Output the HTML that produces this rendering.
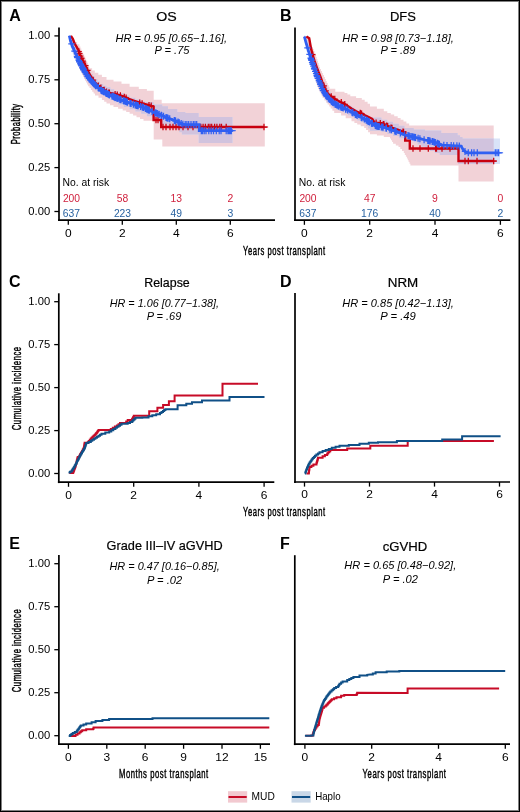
<!DOCTYPE html>
<html><head><meta charset="utf-8"><style>
html,body{margin:0;padding:0;background:#fff;}
body{width:520px;height:812px;position:relative;overflow:hidden;font-family:"Liberation Sans",sans-serif;}
.frame{position:absolute;left:0;top:0;width:520px;height:812px;box-sizing:border-box;border:1px solid #000;pointer-events:none;}
.frame2{position:absolute;left:1px;top:1px;width:518px;height:810px;box-sizing:border-box;border:1px solid #808080;pointer-events:none;}
</style></head><body>
<svg width="520" height="812" viewBox="0 0 520 812" style="position:absolute;left:0;top:0;will-change:transform" font-family='"Liberation Sans", sans-serif'>
<rect x="0" y="0" width="520" height="812" fill="#fff"/>
<line x1="59.0" y1="27.5" x2="59.0" y2="221.0" stroke="#000" stroke-width="1.7"/>
<line x1="58.1" y1="220.2" x2="275.0" y2="220.2" stroke="#000" stroke-width="1.7"/>
<line x1="54.4" y1="35.9" x2="59.0" y2="35.9" stroke="#000" stroke-width="1.3"/>
<text transform="translate(50.20,39.30) scale(1.100,1)" font-size="10.20" text-anchor="end" fill="#000">1.00</text>
<line x1="54.4" y1="79.8" x2="59.0" y2="79.8" stroke="#000" stroke-width="1.3"/>
<text transform="translate(50.20,83.20) scale(1.100,1)" font-size="10.20" text-anchor="end" fill="#000">0.75</text>
<line x1="54.4" y1="123.7" x2="59.0" y2="123.7" stroke="#000" stroke-width="1.3"/>
<text transform="translate(50.20,127.10) scale(1.100,1)" font-size="10.20" text-anchor="end" fill="#000">0.50</text>
<line x1="54.4" y1="167.6" x2="59.0" y2="167.6" stroke="#000" stroke-width="1.3"/>
<text transform="translate(50.20,171.00) scale(1.100,1)" font-size="10.20" text-anchor="end" fill="#000">0.25</text>
<line x1="54.4" y1="211.5" x2="59.0" y2="211.5" stroke="#000" stroke-width="1.3"/>
<text transform="translate(50.20,214.90) scale(1.100,1)" font-size="10.20" text-anchor="end" fill="#000">0.00</text>
<line x1="68.3" y1="220.2" x2="68.3" y2="224.8" stroke="#000" stroke-width="1.3"/>
<text transform="translate(68.30,236.60) scale(1.130,1)" font-size="10.60" text-anchor="middle" fill="#000">0</text>
<line x1="122.3" y1="220.2" x2="122.3" y2="224.8" stroke="#000" stroke-width="1.3"/>
<text transform="translate(122.30,236.60) scale(1.130,1)" font-size="10.60" text-anchor="middle" fill="#000">2</text>
<line x1="176.3" y1="220.2" x2="176.3" y2="224.8" stroke="#000" stroke-width="1.3"/>
<text transform="translate(176.30,236.60) scale(1.130,1)" font-size="10.60" text-anchor="middle" fill="#000">4</text>
<line x1="230.3" y1="220.2" x2="230.3" y2="224.8" stroke="#000" stroke-width="1.3"/>
<text transform="translate(230.30,236.60) scale(1.130,1)" font-size="10.60" text-anchor="middle" fill="#000">6</text>
<line x1="295.0" y1="27.5" x2="295.0" y2="221.0" stroke="#000" stroke-width="1.7"/>
<line x1="294.1" y1="220.2" x2="510.4" y2="220.2" stroke="#000" stroke-width="1.7"/>
<line x1="304.4" y1="220.2" x2="304.4" y2="224.8" stroke="#000" stroke-width="1.3"/>
<text transform="translate(304.40,236.60) scale(1.130,1)" font-size="10.60" text-anchor="middle" fill="#000">0</text>
<line x1="369.7" y1="220.2" x2="369.7" y2="224.8" stroke="#000" stroke-width="1.3"/>
<text transform="translate(369.70,236.60) scale(1.130,1)" font-size="10.60" text-anchor="middle" fill="#000">2</text>
<line x1="435.0" y1="220.2" x2="435.0" y2="224.8" stroke="#000" stroke-width="1.3"/>
<text transform="translate(435.00,236.60) scale(1.130,1)" font-size="10.60" text-anchor="middle" fill="#000">4</text>
<line x1="500.4" y1="220.2" x2="500.4" y2="224.8" stroke="#000" stroke-width="1.3"/>
<text transform="translate(500.40,236.60) scale(1.130,1)" font-size="10.60" text-anchor="middle" fill="#000">6</text>
<line x1="58.8" y1="293.3" x2="58.8" y2="483.1" stroke="#000" stroke-width="1.7"/>
<line x1="57.9" y1="482.2" x2="274.3" y2="482.2" stroke="#000" stroke-width="1.7"/>
<line x1="54.2" y1="301.7" x2="58.8" y2="301.7" stroke="#000" stroke-width="1.3"/>
<text transform="translate(50.20,305.10) scale(1.100,1)" font-size="10.20" text-anchor="end" fill="#000">1.00</text>
<line x1="54.2" y1="344.6" x2="58.8" y2="344.6" stroke="#000" stroke-width="1.3"/>
<text transform="translate(50.20,348.05) scale(1.100,1)" font-size="10.20" text-anchor="end" fill="#000">0.75</text>
<line x1="54.2" y1="387.6" x2="58.8" y2="387.6" stroke="#000" stroke-width="1.3"/>
<text transform="translate(50.20,391.00) scale(1.100,1)" font-size="10.20" text-anchor="end" fill="#000">0.50</text>
<line x1="54.2" y1="430.6" x2="58.8" y2="430.6" stroke="#000" stroke-width="1.3"/>
<text transform="translate(50.20,433.95) scale(1.100,1)" font-size="10.20" text-anchor="end" fill="#000">0.25</text>
<line x1="54.2" y1="473.5" x2="58.8" y2="473.5" stroke="#000" stroke-width="1.3"/>
<text transform="translate(50.20,476.90) scale(1.100,1)" font-size="10.20" text-anchor="end" fill="#000">0.00</text>
<line x1="68.5" y1="482.2" x2="68.5" y2="486.8" stroke="#000" stroke-width="1.3"/>
<text transform="translate(68.50,498.60) scale(1.130,1)" font-size="10.60" text-anchor="middle" fill="#000">0</text>
<line x1="133.7" y1="482.2" x2="133.7" y2="486.8" stroke="#000" stroke-width="1.3"/>
<text transform="translate(133.70,498.60) scale(1.130,1)" font-size="10.60" text-anchor="middle" fill="#000">2</text>
<line x1="198.9" y1="482.2" x2="198.9" y2="486.8" stroke="#000" stroke-width="1.3"/>
<text transform="translate(198.90,498.60) scale(1.130,1)" font-size="10.60" text-anchor="middle" fill="#000">4</text>
<line x1="264.1" y1="482.2" x2="264.1" y2="486.8" stroke="#000" stroke-width="1.3"/>
<text transform="translate(264.10,498.60) scale(1.130,1)" font-size="10.60" text-anchor="middle" fill="#000">6</text>
<line x1="295.0" y1="293.1" x2="295.0" y2="482.9" stroke="#000" stroke-width="1.7"/>
<line x1="294.1" y1="482.0" x2="510.0" y2="482.0" stroke="#000" stroke-width="1.7"/>
<line x1="304.5" y1="482.0" x2="304.5" y2="486.6" stroke="#000" stroke-width="1.3"/>
<text transform="translate(304.50,498.40) scale(1.130,1)" font-size="10.60" text-anchor="middle" fill="#000">0</text>
<line x1="369.5" y1="482.0" x2="369.5" y2="486.6" stroke="#000" stroke-width="1.3"/>
<text transform="translate(369.50,498.40) scale(1.130,1)" font-size="10.60" text-anchor="middle" fill="#000">2</text>
<line x1="434.5" y1="482.0" x2="434.5" y2="486.6" stroke="#000" stroke-width="1.3"/>
<text transform="translate(434.50,498.40) scale(1.130,1)" font-size="10.60" text-anchor="middle" fill="#000">4</text>
<line x1="499.5" y1="482.0" x2="499.5" y2="486.6" stroke="#000" stroke-width="1.3"/>
<text transform="translate(499.50,498.40) scale(1.130,1)" font-size="10.60" text-anchor="middle" fill="#000">6</text>
<line x1="58.9" y1="555.0" x2="58.9" y2="745.1" stroke="#000" stroke-width="1.7"/>
<line x1="58.0" y1="744.2" x2="270.0" y2="744.2" stroke="#000" stroke-width="1.7"/>
<line x1="54.3" y1="563.7" x2="58.9" y2="563.7" stroke="#000" stroke-width="1.3"/>
<text transform="translate(50.20,567.10) scale(1.100,1)" font-size="10.20" text-anchor="end" fill="#000">1.00</text>
<line x1="54.3" y1="606.7" x2="58.9" y2="606.7" stroke="#000" stroke-width="1.3"/>
<text transform="translate(50.20,610.10) scale(1.100,1)" font-size="10.20" text-anchor="end" fill="#000">0.75</text>
<line x1="54.3" y1="649.7" x2="58.9" y2="649.7" stroke="#000" stroke-width="1.3"/>
<text transform="translate(50.20,653.10) scale(1.100,1)" font-size="10.20" text-anchor="end" fill="#000">0.50</text>
<line x1="54.3" y1="692.7" x2="58.9" y2="692.7" stroke="#000" stroke-width="1.3"/>
<text transform="translate(50.20,696.10) scale(1.100,1)" font-size="10.20" text-anchor="end" fill="#000">0.25</text>
<line x1="54.3" y1="735.7" x2="58.9" y2="735.7" stroke="#000" stroke-width="1.3"/>
<text transform="translate(50.20,739.10) scale(1.100,1)" font-size="10.20" text-anchor="end" fill="#000">0.00</text>
<line x1="68.4" y1="744.2" x2="68.4" y2="748.8" stroke="#000" stroke-width="1.3"/>
<text transform="translate(68.40,760.60) scale(1.130,1)" font-size="10.60" text-anchor="middle" fill="#000">0</text>
<line x1="106.8" y1="744.2" x2="106.8" y2="748.8" stroke="#000" stroke-width="1.3"/>
<text transform="translate(106.80,760.60) scale(1.130,1)" font-size="10.60" text-anchor="middle" fill="#000">3</text>
<line x1="145.2" y1="744.2" x2="145.2" y2="748.8" stroke="#000" stroke-width="1.3"/>
<text transform="translate(145.20,760.60) scale(1.130,1)" font-size="10.60" text-anchor="middle" fill="#000">6</text>
<line x1="183.6" y1="744.2" x2="183.6" y2="748.8" stroke="#000" stroke-width="1.3"/>
<text transform="translate(183.60,760.60) scale(1.130,1)" font-size="10.60" text-anchor="middle" fill="#000">9</text>
<line x1="222.0" y1="744.2" x2="222.0" y2="748.8" stroke="#000" stroke-width="1.3"/>
<text transform="translate(222.00,760.60) scale(1.130,1)" font-size="10.60" text-anchor="middle" fill="#000">12</text>
<line x1="260.4" y1="744.2" x2="260.4" y2="748.8" stroke="#000" stroke-width="1.3"/>
<text transform="translate(260.40,760.60) scale(1.130,1)" font-size="10.60" text-anchor="middle" fill="#000">15</text>
<line x1="294.8" y1="555.2" x2="294.8" y2="745.1" stroke="#000" stroke-width="1.7"/>
<line x1="293.9" y1="744.2" x2="510.0" y2="744.2" stroke="#000" stroke-width="1.7"/>
<line x1="304.9" y1="744.2" x2="304.9" y2="748.8" stroke="#000" stroke-width="1.3"/>
<text transform="translate(304.90,760.60) scale(1.130,1)" font-size="10.60" text-anchor="middle" fill="#000">0</text>
<line x1="371.7" y1="744.2" x2="371.7" y2="748.8" stroke="#000" stroke-width="1.3"/>
<text transform="translate(371.70,760.60) scale(1.130,1)" font-size="10.60" text-anchor="middle" fill="#000">2</text>
<line x1="438.5" y1="744.2" x2="438.5" y2="748.8" stroke="#000" stroke-width="1.3"/>
<text transform="translate(438.50,760.60) scale(1.130,1)" font-size="10.60" text-anchor="middle" fill="#000">4</text>
<line x1="505.3" y1="744.2" x2="505.3" y2="748.8" stroke="#000" stroke-width="1.3"/>
<text transform="translate(505.30,760.60) scale(1.130,1)" font-size="10.60" text-anchor="middle" fill="#000">6</text>
<text x="9.2" y="20.9" font-size="16.0" text-anchor="start" font-weight="bold" font-style="normal" fill="#000">A</text>
<text x="280.0" y="20.8" font-size="16.0" text-anchor="start" font-weight="bold" font-style="normal" fill="#000">B</text>
<text x="9.0" y="286.6" font-size="16.0" text-anchor="start" font-weight="bold" font-style="normal" fill="#000">C</text>
<text x="280.0" y="286.8" font-size="16.0" text-anchor="start" font-weight="bold" font-style="normal" fill="#000">D</text>
<text x="9.2" y="548.7" font-size="16.0" text-anchor="start" font-weight="bold" font-style="normal" fill="#000">E</text>
<text x="280.0" y="548.7" font-size="16.0" text-anchor="start" font-weight="bold" font-style="normal" fill="#000">F</text>
<text x="166.6" y="20.8" font-size="13.0" text-anchor="middle" font-weight="normal" font-style="normal" fill="#000" textLength="20.5" lengthAdjust="spacingAndGlyphs" stroke="#000" stroke-width="0.2">OS</text>
<text x="402.9" y="20.8" font-size="13.0" text-anchor="middle" font-weight="normal" font-style="normal" fill="#000" textLength="26.0" lengthAdjust="spacingAndGlyphs" stroke="#000" stroke-width="0.2">DFS</text>
<text x="167.0" y="287.3" font-size="13.0" text-anchor="middle" font-weight="normal" font-style="normal" fill="#000" textLength="45.5" lengthAdjust="spacingAndGlyphs" stroke="#000" stroke-width="0.2">Relapse</text>
<text x="403.0" y="287.3" font-size="13.0" text-anchor="middle" font-weight="normal" font-style="normal" fill="#000" textLength="30.5" lengthAdjust="spacingAndGlyphs" stroke="#000" stroke-width="0.2">NRM</text>
<text x="164.6" y="550.2" font-size="13.0" text-anchor="middle" font-weight="normal" font-style="normal" fill="#000" textLength="116.0" lengthAdjust="spacingAndGlyphs" stroke="#000" stroke-width="0.2">Grade III–IV aGVHD</text>
<text x="404.9" y="550.6" font-size="13.0" text-anchor="middle" font-weight="normal" font-style="normal" fill="#000" textLength="44.5" lengthAdjust="spacingAndGlyphs" stroke="#000" stroke-width="0.2">cGVHD</text>
<text x="171.3" y="41.6" font-size="11.0" text-anchor="middle" font-weight="normal" font-style="italic" fill="#000" textLength="111.5" lengthAdjust="spacingAndGlyphs">HR = 0.95 [0.65−1.16],</text>
<text x="172.0" y="53.8" font-size="11.0" text-anchor="middle" font-weight="normal" font-style="italic" fill="#000" textLength="35.0" lengthAdjust="spacingAndGlyphs">P = .75</text>
<text x="398.1" y="41.6" font-size="11.0" text-anchor="middle" font-weight="normal" font-style="italic" fill="#000" textLength="111.5" lengthAdjust="spacingAndGlyphs">HR = 0.98 [0.73−1.18],</text>
<text x="397.9" y="53.8" font-size="11.0" text-anchor="middle" font-weight="normal" font-style="italic" fill="#000" textLength="35.0" lengthAdjust="spacingAndGlyphs">P = .89</text>
<text x="164.4" y="306.6" font-size="11.0" text-anchor="middle" font-weight="normal" font-style="italic" fill="#000" textLength="109.3" lengthAdjust="spacingAndGlyphs">HR = 1.06 [0.77−1.38],</text>
<text x="164.0" y="319.7" font-size="11.0" text-anchor="middle" font-weight="normal" font-style="italic" fill="#000" textLength="34.7" lengthAdjust="spacingAndGlyphs">P = .69</text>
<text x="398.1" y="306.6" font-size="11.0" text-anchor="middle" font-weight="normal" font-style="italic" fill="#000" textLength="111.5" lengthAdjust="spacingAndGlyphs">HR = 0.85 [0.42−1.13],</text>
<text x="398.1" y="319.7" font-size="11.0" text-anchor="middle" font-weight="normal" font-style="italic" fill="#000" textLength="35.5" lengthAdjust="spacingAndGlyphs">P = .49</text>
<text x="164.6" y="569.8" font-size="11.0" text-anchor="middle" font-weight="normal" font-style="italic" fill="#000" textLength="110.2" lengthAdjust="spacingAndGlyphs">HR = 0.47 [0.16−0.85],</text>
<text x="164.6" y="583.5" font-size="11.0" text-anchor="middle" font-weight="normal" font-style="italic" fill="#000" textLength="35.2" lengthAdjust="spacingAndGlyphs">P = .02</text>
<text x="400.3" y="569.3" font-size="11.0" text-anchor="middle" font-weight="normal" font-style="italic" fill="#000" textLength="111.9" lengthAdjust="spacingAndGlyphs">HR = 0.65 [0.48−0.92],</text>
<text x="400.4" y="582.9" font-size="11.0" text-anchor="middle" font-weight="normal" font-style="italic" fill="#000" textLength="35.2" lengthAdjust="spacingAndGlyphs">P = .02</text>
<text x="243.0" y="254.6" font-size="12.6" text-anchor="start" font-weight="normal" font-style="normal" fill="#000" textLength="82.6" lengthAdjust="spacingAndGlyphs" stroke="#000" stroke-width="0.45" letter-spacing="0.9">Years post transplant</text>
<text x="243.0" y="516.2" font-size="12.6" text-anchor="start" font-weight="normal" font-style="normal" fill="#000" textLength="82.6" lengthAdjust="spacingAndGlyphs" stroke="#000" stroke-width="0.45" letter-spacing="0.9">Years post transplant</text>
<text x="119.0" y="778.0" font-size="12.6" text-anchor="start" font-weight="normal" font-style="normal" fill="#000" textLength="89.8" lengthAdjust="spacingAndGlyphs" stroke="#000" stroke-width="0.45" letter-spacing="0.9">Months post transplant</text>
<text x="362.6" y="778.2" font-size="12.6" text-anchor="start" font-weight="normal" font-style="normal" fill="#000" textLength="83.9" lengthAdjust="spacingAndGlyphs" stroke="#000" stroke-width="0.45" letter-spacing="0.9">Years post transplant</text>
<text transform="translate(19.9,123.9) rotate(-90)" x="0" y="0" font-size="12.2" stroke="#000" stroke-width="0.45" letter-spacing="0.8" text-anchor="middle" textLength="40.8" lengthAdjust="spacingAndGlyphs">Probability</text>
<text transform="translate(21.0,388.3) rotate(-90)" x="0" y="0" font-size="12.2" stroke="#000" stroke-width="0.45" letter-spacing="0.8" text-anchor="middle" textLength="84.0" lengthAdjust="spacingAndGlyphs">Cumulative incidence</text>
<text transform="translate(21.0,650.5) rotate(-90)" x="0" y="0" font-size="12.2" stroke="#000" stroke-width="0.45" letter-spacing="0.8" text-anchor="middle" textLength="83.5" lengthAdjust="spacingAndGlyphs">Cumulative incidence</text>
<text x="62.6" y="186.0" font-size="10.1" text-anchor="start" font-weight="normal" font-style="normal" fill="#000" textLength="46.6" lengthAdjust="spacingAndGlyphs">No. at risk</text>
<text x="298.8" y="186.0" font-size="10.1" text-anchor="start" font-weight="normal" font-style="normal" fill="#000" textLength="46.6" lengthAdjust="spacingAndGlyphs">No. at risk</text>
<text x="71.5" y="201.8" font-size="10.1" text-anchor="middle" font-weight="normal" font-style="normal" fill="#d0223e" textLength="17.2" lengthAdjust="spacingAndGlyphs">200</text>
<text x="122.5" y="201.8" font-size="10.1" text-anchor="middle" font-weight="normal" font-style="normal" fill="#d0223e" textLength="11.5" lengthAdjust="spacingAndGlyphs">58</text>
<text x="176.3" y="201.8" font-size="10.1" text-anchor="middle" font-weight="normal" font-style="normal" fill="#d0223e" textLength="11.5" lengthAdjust="spacingAndGlyphs">13</text>
<text x="230.3" y="201.8" font-size="10.1" text-anchor="middle" font-weight="normal" font-style="normal" fill="#d0223e" textLength="5.8" lengthAdjust="spacingAndGlyphs">2</text>
<text x="71.3" y="216.7" font-size="10.1" text-anchor="middle" font-weight="normal" font-style="normal" fill="#2862a0" textLength="17.2" lengthAdjust="spacingAndGlyphs">637</text>
<text x="122.5" y="216.7" font-size="10.1" text-anchor="middle" font-weight="normal" font-style="normal" fill="#2862a0" textLength="17.2" lengthAdjust="spacingAndGlyphs">223</text>
<text x="176.3" y="216.7" font-size="10.1" text-anchor="middle" font-weight="normal" font-style="normal" fill="#2862a0" textLength="11.5" lengthAdjust="spacingAndGlyphs">49</text>
<text x="230.3" y="216.7" font-size="10.1" text-anchor="middle" font-weight="normal" font-style="normal" fill="#2862a0" textLength="5.8" lengthAdjust="spacingAndGlyphs">3</text>
<text x="308.0" y="201.8" font-size="10.1" text-anchor="middle" font-weight="normal" font-style="normal" fill="#d0223e" textLength="17.2" lengthAdjust="spacingAndGlyphs">200</text>
<text x="369.7" y="201.8" font-size="10.1" text-anchor="middle" font-weight="normal" font-style="normal" fill="#d0223e" textLength="11.5" lengthAdjust="spacingAndGlyphs">47</text>
<text x="435.0" y="201.8" font-size="10.1" text-anchor="middle" font-weight="normal" font-style="normal" fill="#d0223e" textLength="5.8" lengthAdjust="spacingAndGlyphs">9</text>
<text x="500.4" y="201.8" font-size="10.1" text-anchor="middle" font-weight="normal" font-style="normal" fill="#d0223e" textLength="5.8" lengthAdjust="spacingAndGlyphs">0</text>
<text x="307.8" y="216.7" font-size="10.1" text-anchor="middle" font-weight="normal" font-style="normal" fill="#2862a0" textLength="17.2" lengthAdjust="spacingAndGlyphs">637</text>
<text x="369.7" y="216.7" font-size="10.1" text-anchor="middle" font-weight="normal" font-style="normal" fill="#2862a0" textLength="17.2" lengthAdjust="spacingAndGlyphs">176</text>
<text x="435.0" y="216.7" font-size="10.1" text-anchor="middle" font-weight="normal" font-style="normal" fill="#2862a0" textLength="11.5" lengthAdjust="spacingAndGlyphs">40</text>
<text x="500.4" y="216.7" font-size="10.1" text-anchor="middle" font-weight="normal" font-style="normal" fill="#2862a0" textLength="5.8" lengthAdjust="spacingAndGlyphs">2</text>
<rect x="228" y="791.2" width="19.2" height="11.4" fill="#f2c9d0"/>
<line x1="228.5" y1="797" x2="246.7" y2="797" stroke="#c70b27" stroke-width="2.0"/>
<text x="251.6" y="800.2" font-size="10.2" text-anchor="start" font-weight="normal" font-style="normal" fill="#000" textLength="23.2" lengthAdjust="spacingAndGlyphs">MUD</text>
<rect x="291.5" y="791.2" width="19.2" height="11.4" fill="#c9d7e7"/>
<line x1="292" y1="797" x2="310.2" y2="797" stroke="#105087" stroke-width="2.0"/>
<text x="315.2" y="800.2" font-size="10.2" text-anchor="start" font-weight="normal" font-style="normal" fill="#000" textLength="25.4" lengthAdjust="spacingAndGlyphs">Haplo</text>
<polygon points="69.4,35.5 71.2,35.5 71.2,37.7 73.0,37.7 73.0,39.8 74.8,39.8 74.8,42.0 77.1,42.0 77.1,44.3 79.4,44.3 79.4,46.6 80.4,46.6 80.4,48.5 81.3,48.5 81.3,50.5 82.2,50.5 82.2,52.4 83.2,52.4 83.2,54.3 84.2,54.3 84.2,56.4 85.2,56.4 85.2,58.5 86.1,58.5 86.1,60.7 87.1,60.7 87.1,62.8 87.9,62.8 87.9,64.6 88.6,64.6 88.6,66.4 89.4,66.4 89.4,68.2 92.1,68.2 92.1,70.5 94.8,70.5 94.8,72.8 98.3,72.8 98.3,74.8 101.9,74.8 101.9,76.9 106.5,76.9 106.5,79.8 113.5,79.8 113.5,81.5 121.5,81.5 121.5,83.8 129.6,83.8 129.6,86.7 138.8,86.7 138.8,89.0 146.9,89.0 146.9,90.8 153.7,90.8 153.7,92.5 153.7,99.8 161.7,99.8 161.7,103.3 264.8,103.3 264.8,146.4 162.3,146.4 162.3,139.6 153.7,139.6 153.7,122.0 153.7,120.8 143.5,120.8 143.5,119.0 140.0,119.0 140.0,117.3 136.5,117.3 136.5,115.5 133.1,115.5 133.1,113.8 129.6,113.8 129.6,112.1 126.2,112.1 126.2,110.4 122.7,110.4 122.7,108.7 118.1,108.7 118.1,106.9 113.5,106.9 113.5,105.2 110.0,105.2 110.0,103.5 106.5,103.5 106.5,101.8 104.2,101.8 104.2,100.0 101.9,100.0 101.9,97.7 98.5,97.7 98.5,95.4 95.0,95.4 95.0,93.6 93.6,93.6 93.6,91.7 92.2,91.7 92.2,89.9 90.9,89.9 90.9,88.0 89.5,88.0 89.5,86.2 88.1,86.2 88.1,84.4 87.1,84.4 87.1,82.6 86.0,82.6 86.0,80.8 85.0,80.8 85.0,79.0 84.0,79.0 84.0,77.0 83.0,77.0 83.0,75.0 82.0,75.0 82.0,73.0 81.0,73.0 81.0,71.0 80.0,71.0 80.0,68.8 79.0,68.8 79.0,66.5 78.0,66.5 78.0,64.2 77.0,64.2 77.0,62.0 76.0,62.0 76.0,60.0 75.3,60.0 75.3,58.0 74.6,58.0 74.6,56.0 73.9,56.0 73.9,54.0 73.2,54.0 73.2,52.0 72.5,52.0 72.5,50.0 72.0,50.0 72.0,48.0 71.4,48.0 71.4,46.0 70.8,46.0 70.8,44.0 70.3,44.0 70.3,42.2 69.9,42.2 69.9,40.5 69.5,40.5 69.5,38.8 69.2,38.8 69.2,37.0 68.8,37.0" fill="#f2d2d7"/>
<clipPath id="cpA"><polygon points="69.4,35.5 71.2,35.5 71.2,37.7 73.0,37.7 73.0,39.8 74.8,39.8 74.8,42.0 77.1,42.0 77.1,44.3 79.4,44.3 79.4,46.6 80.4,46.6 80.4,48.5 81.3,48.5 81.3,50.5 82.2,50.5 82.2,52.4 83.2,52.4 83.2,54.3 84.2,54.3 84.2,56.4 85.2,56.4 85.2,58.5 86.1,58.5 86.1,60.7 87.1,60.7 87.1,62.8 87.9,62.8 87.9,64.6 88.6,64.6 88.6,66.4 89.4,66.4 89.4,68.2 92.1,68.2 92.1,70.5 94.8,70.5 94.8,72.8 98.3,72.8 98.3,74.8 101.9,74.8 101.9,76.9 106.5,76.9 106.5,79.8 113.5,79.8 113.5,81.5 121.5,81.5 121.5,83.8 129.6,83.8 129.6,86.7 138.8,86.7 138.8,89.0 146.9,89.0 146.9,90.8 153.7,90.8 153.7,92.5 153.7,99.8 161.7,99.8 161.7,103.3 264.8,103.3 264.8,146.4 162.3,146.4 162.3,139.6 153.7,139.6 153.7,122.0 153.7,120.8 143.5,120.8 143.5,119.0 140.0,119.0 140.0,117.3 136.5,117.3 136.5,115.5 133.1,115.5 133.1,113.8 129.6,113.8 129.6,112.1 126.2,112.1 126.2,110.4 122.7,110.4 122.7,108.7 118.1,108.7 118.1,106.9 113.5,106.9 113.5,105.2 110.0,105.2 110.0,103.5 106.5,103.5 106.5,101.8 104.2,101.8 104.2,100.0 101.9,100.0 101.9,97.7 98.5,97.7 98.5,95.4 95.0,95.4 95.0,93.6 93.6,93.6 93.6,91.7 92.2,91.7 92.2,89.9 90.9,89.9 90.9,88.0 89.5,88.0 89.5,86.2 88.1,86.2 88.1,84.4 87.1,84.4 87.1,82.6 86.0,82.6 86.0,80.8 85.0,80.8 85.0,79.0 84.0,79.0 84.0,77.0 83.0,77.0 83.0,75.0 82.0,75.0 82.0,73.0 81.0,73.0 81.0,71.0 80.0,71.0 80.0,68.8 79.0,68.8 79.0,66.5 78.0,66.5 78.0,64.2 77.0,64.2 77.0,62.0 76.0,62.0 76.0,60.0 75.3,60.0 75.3,58.0 74.6,58.0 74.6,56.0 73.9,56.0 73.9,54.0 73.2,54.0 73.2,52.0 72.5,52.0 72.5,50.0 72.0,50.0 72.0,48.0 71.4,48.0 71.4,46.0 70.8,46.0 70.8,44.0 70.3,44.0 70.3,42.2 69.9,42.2 69.9,40.5 69.5,40.5 69.5,38.8 69.2,38.8 69.2,37.0 68.8,37.0"/></clipPath>
<polygon points="69.2,35.5 70.1,35.5 70.1,37.3 71.1,37.3 71.1,39.2 72.0,39.2 72.0,41.0 73.0,41.0 73.0,43.0 74.0,43.0 74.0,45.0 75.0,45.0 75.0,47.0 76.0,47.0 76.0,48.8 77.0,48.8 77.0,50.5 78.0,50.5 78.0,52.2 79.0,52.2 79.0,54.0 80.0,54.0 80.0,55.8 81.0,55.8 81.0,57.5 82.0,57.5 82.0,59.2 83.0,59.2 83.0,61.0 84.3,61.0 84.3,63.0 85.7,63.0 85.7,65.0 87.0,65.0 87.0,67.0 88.0,67.0 88.0,68.8 89.0,68.8 89.0,70.5 90.0,70.5 90.0,72.2 91.0,72.2 91.0,74.0 93.0,74.0 93.0,76.5 95.0,76.5 95.0,79.0 97.5,79.0 97.5,81.5 100.0,81.5 100.0,84.0 103.2,84.0 103.2,85.7 106.5,85.7 106.5,87.3 110.4,87.3 110.4,89.2 114.2,89.2 114.2,91.2 118.1,91.2 118.1,93.1 123.8,93.1 123.8,95.4 129.6,95.4 129.6,97.7 135.4,97.7 135.4,99.5 141.2,99.5 141.2,101.2 145.0,101.2 145.0,102.0 153.7,102.0 153.7,104.4 162.3,104.4 162.3,106.2 168.0,106.2 168.0,109.0 177.3,109.0 177.3,111.9 185.4,111.9 185.4,113.0 198.7,113.0 198.7,113.7 198.7,117.0 232.5,117.0 232.5,143.1 198.7,143.1 198.7,134.4 181.9,134.4 181.9,132.3 179.2,132.3 179.2,130.1 176.5,130.1 176.5,128.0 173.8,128.0 173.8,126.3 168.1,126.3 168.1,124.6 162.3,124.6 162.3,122.6 159.1,122.6 159.1,120.5 155.9,120.5 155.9,118.5 152.7,118.5 152.7,116.2 146.9,116.2 146.9,113.8 141.2,113.8 141.2,111.5 135.4,111.5 135.4,109.2 129.6,109.2 129.6,106.9 123.8,106.9 123.8,104.6 118.1,104.6 118.1,102.3 114.2,102.3 114.2,100.0 110.4,100.0 110.4,97.7 106.5,97.7 106.5,95.8 103.6,95.8 103.6,94.0 100.8,94.0 100.8,92.1 97.9,92.1 97.9,90.2 95.0,90.2 95.0,88.4 93.2,88.4 93.2,86.6 91.5,86.6 91.5,84.8 89.8,84.8 89.8,83.0 88.0,83.0 88.0,81.2 86.8,81.2 86.8,79.5 85.5,79.5 85.5,77.8 84.2,77.8 84.2,76.0 83.0,76.0 83.0,73.8 81.8,73.8 81.8,71.5 80.5,71.5 80.5,69.2 79.2,69.2 79.2,67.0 78.0,67.0 78.0,64.8 77.0,64.8 77.0,62.5 76.0,62.5 76.0,60.2 75.0,60.2 75.0,58.0 74.0,58.0 74.0,55.8 73.2,55.8 73.2,53.5 72.5,53.5 72.5,51.2 71.8,51.2 71.8,49.0 71.0,49.0 71.0,47.0 70.6,47.0 70.6,45.0 70.2,45.0 70.2,43.0 69.8,43.0 69.8,41.0 69.4,41.0 69.4,38.8 69.1,38.8 69.1,36.5 68.8,36.5" fill="#d9e3f8"/>
<g clip-path="url(#cpA)"><polygon points="69.2,35.5 70.1,35.5 70.1,37.3 71.1,37.3 71.1,39.2 72.0,39.2 72.0,41.0 73.0,41.0 73.0,43.0 74.0,43.0 74.0,45.0 75.0,45.0 75.0,47.0 76.0,47.0 76.0,48.8 77.0,48.8 77.0,50.5 78.0,50.5 78.0,52.2 79.0,52.2 79.0,54.0 80.0,54.0 80.0,55.8 81.0,55.8 81.0,57.5 82.0,57.5 82.0,59.2 83.0,59.2 83.0,61.0 84.3,61.0 84.3,63.0 85.7,63.0 85.7,65.0 87.0,65.0 87.0,67.0 88.0,67.0 88.0,68.8 89.0,68.8 89.0,70.5 90.0,70.5 90.0,72.2 91.0,72.2 91.0,74.0 93.0,74.0 93.0,76.5 95.0,76.5 95.0,79.0 97.5,79.0 97.5,81.5 100.0,81.5 100.0,84.0 103.2,84.0 103.2,85.7 106.5,85.7 106.5,87.3 110.4,87.3 110.4,89.2 114.2,89.2 114.2,91.2 118.1,91.2 118.1,93.1 123.8,93.1 123.8,95.4 129.6,95.4 129.6,97.7 135.4,97.7 135.4,99.5 141.2,99.5 141.2,101.2 145.0,101.2 145.0,102.0 153.7,102.0 153.7,104.4 162.3,104.4 162.3,106.2 168.0,106.2 168.0,109.0 177.3,109.0 177.3,111.9 185.4,111.9 185.4,113.0 198.7,113.0 198.7,113.7 198.7,117.0 232.5,117.0 232.5,143.1 198.7,143.1 198.7,134.4 181.9,134.4 181.9,132.3 179.2,132.3 179.2,130.1 176.5,130.1 176.5,128.0 173.8,128.0 173.8,126.3 168.1,126.3 168.1,124.6 162.3,124.6 162.3,122.6 159.1,122.6 159.1,120.5 155.9,120.5 155.9,118.5 152.7,118.5 152.7,116.2 146.9,116.2 146.9,113.8 141.2,113.8 141.2,111.5 135.4,111.5 135.4,109.2 129.6,109.2 129.6,106.9 123.8,106.9 123.8,104.6 118.1,104.6 118.1,102.3 114.2,102.3 114.2,100.0 110.4,100.0 110.4,97.7 106.5,97.7 106.5,95.8 103.6,95.8 103.6,94.0 100.8,94.0 100.8,92.1 97.9,92.1 97.9,90.2 95.0,90.2 95.0,88.4 93.2,88.4 93.2,86.6 91.5,86.6 91.5,84.8 89.8,84.8 89.8,83.0 88.0,83.0 88.0,81.2 86.8,81.2 86.8,79.5 85.5,79.5 85.5,77.8 84.2,77.8 84.2,76.0 83.0,76.0 83.0,73.8 81.8,73.8 81.8,71.5 80.5,71.5 80.5,69.2 79.2,69.2 79.2,67.0 78.0,67.0 78.0,64.8 77.0,64.8 77.0,62.5 76.0,62.5 76.0,60.2 75.0,60.2 75.0,58.0 74.0,58.0 74.0,55.8 73.2,55.8 73.2,53.5 72.5,53.5 72.5,51.2 71.8,51.2 71.8,49.0 71.0,49.0 71.0,47.0 70.6,47.0 70.6,45.0 70.2,45.0 70.2,43.0 69.8,43.0 69.8,41.0 69.4,41.0 69.4,38.8 69.1,38.8 69.1,36.5 68.8,36.5" fill="#d1c3de"/></g>
<polygon points="304.2,36.0 306.6,36.0 306.6,38.0 309.0,38.0 309.0,40.0 309.8,40.0 309.8,41.8 310.5,41.8 310.5,43.5 311.2,43.5 311.2,45.2 312.0,45.2 312.0,47.0 312.9,47.0 312.9,49.0 313.7,49.0 313.7,51.0 314.5,51.0 314.5,53.1 315.4,53.1 315.4,55.1 316.1,55.1 316.1,57.1 316.7,57.1 316.7,59.0 317.4,59.0 317.4,61.0 318.0,61.0 318.0,63.0 318.7,63.0 318.7,65.0 319.3,65.0 319.3,66.9 320.0,66.9 320.0,68.9 321.0,68.9 321.0,70.9 322.0,70.9 322.0,72.9 322.9,72.9 322.9,75.0 323.9,75.0 323.9,77.0 324.9,77.0 324.9,79.0 325.8,79.0 325.8,81.0 326.7,81.0 326.7,82.9 327.7,82.9 327.7,84.9 328.6,84.9 328.6,86.8 329.5,86.8 329.5,88.8 335.3,88.8 335.3,91.7 344.5,91.7 344.5,92.9 347.4,92.9 347.4,94.6 350.3,94.6 350.3,96.3 356.1,96.3 356.1,98.1 361.8,98.1 361.8,99.8 364.7,99.8 364.7,101.8 367.6,101.8 367.6,103.8 370.0,103.8 370.0,106.5 376.9,106.5 376.9,108.8 383.8,108.8 383.8,111.2 387.3,111.2 387.3,112.9 390.8,112.9 390.8,114.6 394.2,114.6 394.2,116.3 397.7,116.3 397.7,118.1 400.6,118.1 400.6,119.8 403.5,119.8 403.5,121.5 406.4,121.5 406.4,123.5 409.2,123.5 409.2,125.5 493.7,125.5 493.7,181.6 458.5,181.6 458.5,165.6 410.4,165.6 410.4,163.8 409.5,163.8 409.5,162.1 408.6,162.1 408.6,160.3 407.8,160.3 407.8,158.5 406.9,158.5 406.9,156.7 405.9,156.7 405.9,154.9 404.8,154.9 404.8,153.1 403.8,153.1 403.8,151.0 402.0,151.0 402.0,149.0 400.3,149.0 400.3,146.9 398.5,146.9 398.5,145.4 395.8,145.4 395.8,143.8 393.1,143.8 393.1,142.0 392.1,142.0 392.1,140.3 391.0,140.3 391.0,138.5 390.0,138.5 390.0,137.0 383.8,137.0 383.8,135.5 376.9,135.5 376.9,134.2 370.0,134.2 370.0,132.2 368.1,132.2 368.1,130.1 366.1,130.1 366.1,128.1 364.2,128.1 364.2,126.3 360.7,126.3 360.7,124.6 357.2,124.6 357.2,122.9 354.4,122.9 354.4,121.2 351.5,121.2 351.5,118.3 345.7,118.3 345.7,115.4 341.1,115.4 341.1,113.1 334.2,113.1 334.2,110.8 332.4,110.8 332.4,108.5 330.7,108.5 330.7,106.6 329.2,106.6 329.2,104.6 327.6,104.6 327.6,102.7 326.1,102.7 326.1,100.4 324.4,100.4 324.4,98.1 322.6,98.1 322.6,96.2 321.7,96.2 321.7,94.4 320.8,94.4 320.8,92.5 319.8,92.5 319.8,90.7 318.9,90.7 318.9,88.8 318.0,88.8 318.0,86.6 317.2,86.6 317.2,84.4 316.5,84.4 316.5,82.2 315.8,82.2 315.8,80.0 315.0,80.0 315.0,78.0 314.4,78.0 314.4,76.0 313.9,76.0 313.9,74.0 313.3,74.0 313.3,72.0 312.7,72.0 312.7,70.0 312.1,70.0 312.1,68.0 311.6,68.0 311.6,66.0 311.0,66.0 311.0,64.0 310.5,64.0 310.5,62.0 310.0,62.0 310.0,60.0 309.5,60.0 309.5,58.0 309.0,58.0 309.0,56.0 308.5,56.0 308.5,54.0 308.0,54.0 308.0,52.0 307.5,52.0 307.5,50.0 307.0,50.0 307.0,48.0 306.5,48.0 306.5,46.0 306.0,46.0 306.0,44.0 305.5,44.0 305.5,42.2 305.1,42.2 305.1,40.5 304.6,40.5 304.6,38.8 304.2,38.8 304.2,37.0 303.8,37.0" fill="#f2d2d7"/>
<clipPath id="cpB"><polygon points="304.2,36.0 306.6,36.0 306.6,38.0 309.0,38.0 309.0,40.0 309.8,40.0 309.8,41.8 310.5,41.8 310.5,43.5 311.2,43.5 311.2,45.2 312.0,45.2 312.0,47.0 312.9,47.0 312.9,49.0 313.7,49.0 313.7,51.0 314.5,51.0 314.5,53.1 315.4,53.1 315.4,55.1 316.1,55.1 316.1,57.1 316.7,57.1 316.7,59.0 317.4,59.0 317.4,61.0 318.0,61.0 318.0,63.0 318.7,63.0 318.7,65.0 319.3,65.0 319.3,66.9 320.0,66.9 320.0,68.9 321.0,68.9 321.0,70.9 322.0,70.9 322.0,72.9 322.9,72.9 322.9,75.0 323.9,75.0 323.9,77.0 324.9,77.0 324.9,79.0 325.8,79.0 325.8,81.0 326.7,81.0 326.7,82.9 327.7,82.9 327.7,84.9 328.6,84.9 328.6,86.8 329.5,86.8 329.5,88.8 335.3,88.8 335.3,91.7 344.5,91.7 344.5,92.9 347.4,92.9 347.4,94.6 350.3,94.6 350.3,96.3 356.1,96.3 356.1,98.1 361.8,98.1 361.8,99.8 364.7,99.8 364.7,101.8 367.6,101.8 367.6,103.8 370.0,103.8 370.0,106.5 376.9,106.5 376.9,108.8 383.8,108.8 383.8,111.2 387.3,111.2 387.3,112.9 390.8,112.9 390.8,114.6 394.2,114.6 394.2,116.3 397.7,116.3 397.7,118.1 400.6,118.1 400.6,119.8 403.5,119.8 403.5,121.5 406.4,121.5 406.4,123.5 409.2,123.5 409.2,125.5 493.7,125.5 493.7,181.6 458.5,181.6 458.5,165.6 410.4,165.6 410.4,163.8 409.5,163.8 409.5,162.1 408.6,162.1 408.6,160.3 407.8,160.3 407.8,158.5 406.9,158.5 406.9,156.7 405.9,156.7 405.9,154.9 404.8,154.9 404.8,153.1 403.8,153.1 403.8,151.0 402.0,151.0 402.0,149.0 400.3,149.0 400.3,146.9 398.5,146.9 398.5,145.4 395.8,145.4 395.8,143.8 393.1,143.8 393.1,142.0 392.1,142.0 392.1,140.3 391.0,140.3 391.0,138.5 390.0,138.5 390.0,137.0 383.8,137.0 383.8,135.5 376.9,135.5 376.9,134.2 370.0,134.2 370.0,132.2 368.1,132.2 368.1,130.1 366.1,130.1 366.1,128.1 364.2,128.1 364.2,126.3 360.7,126.3 360.7,124.6 357.2,124.6 357.2,122.9 354.4,122.9 354.4,121.2 351.5,121.2 351.5,118.3 345.7,118.3 345.7,115.4 341.1,115.4 341.1,113.1 334.2,113.1 334.2,110.8 332.4,110.8 332.4,108.5 330.7,108.5 330.7,106.6 329.2,106.6 329.2,104.6 327.6,104.6 327.6,102.7 326.1,102.7 326.1,100.4 324.4,100.4 324.4,98.1 322.6,98.1 322.6,96.2 321.7,96.2 321.7,94.4 320.8,94.4 320.8,92.5 319.8,92.5 319.8,90.7 318.9,90.7 318.9,88.8 318.0,88.8 318.0,86.6 317.2,86.6 317.2,84.4 316.5,84.4 316.5,82.2 315.8,82.2 315.8,80.0 315.0,80.0 315.0,78.0 314.4,78.0 314.4,76.0 313.9,76.0 313.9,74.0 313.3,74.0 313.3,72.0 312.7,72.0 312.7,70.0 312.1,70.0 312.1,68.0 311.6,68.0 311.6,66.0 311.0,66.0 311.0,64.0 310.5,64.0 310.5,62.0 310.0,62.0 310.0,60.0 309.5,60.0 309.5,58.0 309.0,58.0 309.0,56.0 308.5,56.0 308.5,54.0 308.0,54.0 308.0,52.0 307.5,52.0 307.5,50.0 307.0,50.0 307.0,48.0 306.5,48.0 306.5,46.0 306.0,46.0 306.0,44.0 305.5,44.0 305.5,42.2 305.1,42.2 305.1,40.5 304.6,40.5 304.6,38.8 304.2,38.8 304.2,37.0 303.8,37.0"/></clipPath>
<polygon points="304.0,35.5 305.5,35.5 305.5,37.8 307.0,37.8 307.0,40.0 307.6,40.0 307.6,41.8 308.2,41.8 308.2,43.5 308.9,43.5 308.9,45.2 309.5,45.2 309.5,47.0 310.1,47.0 310.1,49.0 310.8,49.0 310.8,51.0 311.4,51.0 311.4,53.0 312.0,53.0 312.0,55.0 312.8,55.0 312.8,57.0 313.5,57.0 313.5,59.0 314.2,59.0 314.2,61.0 315.0,61.0 315.0,63.0 315.8,63.0 315.8,65.0 316.5,65.0 316.5,67.0 317.2,67.0 317.2,69.0 318.0,69.0 318.0,71.0 318.8,71.0 318.8,72.8 319.5,72.8 319.5,74.5 320.2,74.5 320.2,76.2 321.0,76.2 321.0,78.0 322.0,78.0 322.0,80.0 323.0,80.0 323.0,82.0 324.0,82.0 324.0,84.0 325.3,84.0 325.3,86.0 326.7,86.0 326.7,88.0 328.0,88.0 328.0,90.0 329.2,90.0 329.2,91.8 330.5,91.8 330.5,93.5 331.8,93.5 331.8,95.2 333.0,95.2 333.0,97.0 335.9,97.0 335.9,99.2 338.8,99.2 338.8,101.5 344.5,101.5 344.5,104.0 348.0,104.0 348.0,105.8 351.5,105.8 351.5,107.5 354.4,107.5 354.4,109.2 357.2,109.2 357.2,111.0 360.7,111.0 360.7,112.8 364.2,112.8 364.2,114.5 367.1,114.5 367.1,116.0 370.0,116.0 370.0,117.5 381.5,117.5 381.5,119.8 387.3,119.8 387.3,121.8 393.1,121.8 393.1,123.8 398.9,123.8 398.9,125.8 404.6,125.8 404.6,127.9 413.8,127.9 413.8,129.6 425.0,129.6 425.0,130.4 441.3,130.4 441.3,132.9 457.7,132.9 457.7,135.3 460.1,135.3 460.1,136.9 462.6,136.9 462.6,138.6 500.0,138.6 500.0,164.0 458.0,164.0 458.0,162.2 457.9,162.2 457.9,160.3 457.9,160.3 457.9,158.4 457.8,158.4 457.8,156.6 457.7,156.6 457.7,155.0 439.7,155.0 439.7,153.0 434.8,153.0 434.8,151.0 429.9,151.0 429.9,149.0 425.0,149.0 425.0,146.8 421.3,146.8 421.3,144.5 417.5,144.5 417.5,142.3 413.8,142.3 413.8,140.6 404.6,140.6 404.6,138.3 398.9,138.3 398.9,136.0 393.1,136.0 393.1,133.9 387.3,133.9 387.3,131.9 381.5,131.9 381.5,130.8 370.0,130.8 370.0,128.5 368.1,128.5 368.1,126.3 366.1,126.3 366.1,124.0 364.2,124.0 364.2,122.2 360.7,122.2 360.7,120.5 357.2,120.5 357.2,118.8 354.4,118.8 354.4,117.0 351.5,117.0 351.5,115.2 348.0,115.2 348.0,113.5 344.5,113.5 344.5,111.0 338.8,111.0 338.8,109.5 335.9,109.5 335.9,108.0 333.0,108.0 333.0,105.5 330.1,105.5 330.1,103.0 327.2,103.0 327.2,101.2 326.1,101.2 326.1,99.5 324.9,99.5 324.9,97.8 323.8,97.8 323.8,96.0 322.6,96.0 322.6,94.2 321.7,94.2 321.7,92.5 320.8,92.5 320.8,90.8 319.9,90.8 319.9,89.0 319.0,89.0 319.0,86.8 318.2,86.8 318.2,84.5 317.5,84.5 317.5,82.2 316.8,82.2 316.8,80.0 316.0,80.0 316.0,77.8 315.2,77.8 315.2,75.5 314.5,75.5 314.5,73.2 313.8,73.2 313.8,71.0 313.0,71.0 313.0,68.8 312.2,68.8 312.2,66.5 311.5,66.5 311.5,64.2 310.8,64.2 310.8,62.0 310.0,62.0 310.0,59.8 309.4,59.8 309.4,57.5 308.8,57.5 308.8,55.2 308.1,55.2 308.1,53.0 307.5,53.0 307.5,51.0 307.0,51.0 307.0,49.0 306.5,49.0 306.5,47.0 306.0,47.0 306.0,45.0 305.5,45.0 305.5,43.2 305.1,43.2 305.1,41.5 304.8,41.5 304.8,39.8 304.4,39.8 304.4,38.0 304.0,38.0" fill="#d9e3f8"/>
<g clip-path="url(#cpB)"><polygon points="304.0,35.5 305.5,35.5 305.5,37.8 307.0,37.8 307.0,40.0 307.6,40.0 307.6,41.8 308.2,41.8 308.2,43.5 308.9,43.5 308.9,45.2 309.5,45.2 309.5,47.0 310.1,47.0 310.1,49.0 310.8,49.0 310.8,51.0 311.4,51.0 311.4,53.0 312.0,53.0 312.0,55.0 312.8,55.0 312.8,57.0 313.5,57.0 313.5,59.0 314.2,59.0 314.2,61.0 315.0,61.0 315.0,63.0 315.8,63.0 315.8,65.0 316.5,65.0 316.5,67.0 317.2,67.0 317.2,69.0 318.0,69.0 318.0,71.0 318.8,71.0 318.8,72.8 319.5,72.8 319.5,74.5 320.2,74.5 320.2,76.2 321.0,76.2 321.0,78.0 322.0,78.0 322.0,80.0 323.0,80.0 323.0,82.0 324.0,82.0 324.0,84.0 325.3,84.0 325.3,86.0 326.7,86.0 326.7,88.0 328.0,88.0 328.0,90.0 329.2,90.0 329.2,91.8 330.5,91.8 330.5,93.5 331.8,93.5 331.8,95.2 333.0,95.2 333.0,97.0 335.9,97.0 335.9,99.2 338.8,99.2 338.8,101.5 344.5,101.5 344.5,104.0 348.0,104.0 348.0,105.8 351.5,105.8 351.5,107.5 354.4,107.5 354.4,109.2 357.2,109.2 357.2,111.0 360.7,111.0 360.7,112.8 364.2,112.8 364.2,114.5 367.1,114.5 367.1,116.0 370.0,116.0 370.0,117.5 381.5,117.5 381.5,119.8 387.3,119.8 387.3,121.8 393.1,121.8 393.1,123.8 398.9,123.8 398.9,125.8 404.6,125.8 404.6,127.9 413.8,127.9 413.8,129.6 425.0,129.6 425.0,130.4 441.3,130.4 441.3,132.9 457.7,132.9 457.7,135.3 460.1,135.3 460.1,136.9 462.6,136.9 462.6,138.6 500.0,138.6 500.0,164.0 458.0,164.0 458.0,162.2 457.9,162.2 457.9,160.3 457.9,160.3 457.9,158.4 457.8,158.4 457.8,156.6 457.7,156.6 457.7,155.0 439.7,155.0 439.7,153.0 434.8,153.0 434.8,151.0 429.9,151.0 429.9,149.0 425.0,149.0 425.0,146.8 421.3,146.8 421.3,144.5 417.5,144.5 417.5,142.3 413.8,142.3 413.8,140.6 404.6,140.6 404.6,138.3 398.9,138.3 398.9,136.0 393.1,136.0 393.1,133.9 387.3,133.9 387.3,131.9 381.5,131.9 381.5,130.8 370.0,130.8 370.0,128.5 368.1,128.5 368.1,126.3 366.1,126.3 366.1,124.0 364.2,124.0 364.2,122.2 360.7,122.2 360.7,120.5 357.2,120.5 357.2,118.8 354.4,118.8 354.4,117.0 351.5,117.0 351.5,115.2 348.0,115.2 348.0,113.5 344.5,113.5 344.5,111.0 338.8,111.0 338.8,109.5 335.9,109.5 335.9,108.0 333.0,108.0 333.0,105.5 330.1,105.5 330.1,103.0 327.2,103.0 327.2,101.2 326.1,101.2 326.1,99.5 324.9,99.5 324.9,97.8 323.8,97.8 323.8,96.0 322.6,96.0 322.6,94.2 321.7,94.2 321.7,92.5 320.8,92.5 320.8,90.8 319.9,90.8 319.9,89.0 319.0,89.0 319.0,86.8 318.2,86.8 318.2,84.5 317.5,84.5 317.5,82.2 316.8,82.2 316.8,80.0 316.0,80.0 316.0,77.8 315.2,77.8 315.2,75.5 314.5,75.5 314.5,73.2 313.8,73.2 313.8,71.0 313.0,71.0 313.0,68.8 312.2,68.8 312.2,66.5 311.5,66.5 311.5,64.2 310.8,64.2 310.8,62.0 310.0,62.0 310.0,59.8 309.4,59.8 309.4,57.5 308.8,57.5 308.8,55.2 308.1,55.2 308.1,53.0 307.5,53.0 307.5,51.0 307.0,51.0 307.0,49.0 306.5,49.0 306.5,47.0 306.0,47.0 306.0,45.0 305.5,45.0 305.5,43.2 305.1,43.2 305.1,41.5 304.8,41.5 304.8,39.8 304.4,39.8 304.4,38.0 304.0,38.0" fill="#d1c3de"/></g>
<polyline points="70.9,35.8 72.8,38.9 74.6,43.5 76.9,47.4 78.8,51.2 80.6,56.6 82.6,60.5 84.6,63.5 87.4,70.0 90.6,76.0 93.8,81.0 98.5,86.0 103.5,89.5 107.5,92.5 113.5,93.7 120.4,95.5 127.3,98.3 134.2,100.8 141.2,103.2 148.1,105.0 153.6,106.6 153.6,120.0 161.2,120.0 161.2,127.0 264.3,127.0 268.1,127.0" fill="none" stroke="#c8000f" stroke-width="1.0" stroke-linejoin="miter"/>
<polyline points="70.9,35.8 72.8,38.9 74.6,43.5 76.9,47.4 78.8,51.2 80.6,56.6 82.6,60.5 84.6,63.5 87.4,70.0 90.6,76.0 93.8,81.0 98.5,86.0 103.5,89.5 107.5,92.5 113.5,93.7 120.4,95.5 127.3,98.3 134.2,100.8 141.2,103.2 148.1,105.0 153.6,106.6 153.6,120.0 161.2,120.0 161.2,127.0 264.3,127.0" fill="none" stroke="#c8000f" stroke-width="2.4" stroke-linejoin="miter"/>
<path d="M78.9 48.2V54.7M75.9 51.5H81.8M79.6 50.3V56.8M76.6 53.6H82.5M80.5 52.9V59.4M77.5 56.2H83.4M81.4 54.9V61.4M78.4 58.1H84.3M81.6 55.3V61.8M78.6 58.5H84.5M83.0 57.8V64.3M80.0 61.1H85.9M85.5 62.4V68.9M82.6 65.7H88.5M87.6 67.2V73.7M84.7 70.4H90.6M93.2 76.8V83.3M90.2 80.0H96.1M98.3 82.5V89.0M95.3 85.8H101.2M100.9 84.5V91.0M98.0 87.7H103.9M104.2 86.7V93.2M101.2 90.0H107.1M106.5 88.5V95.0M103.6 91.8H109.5M108.7 89.5V96.0M105.7 92.7H111.6M109.4 89.6V96.1M106.4 92.9H112.3M115.1 90.9V97.4M112.1 94.1H118.0M117.3 91.4V97.9M114.3 94.7H120.2M120.4 92.3V98.8M117.5 95.5H123.4M124.3 93.8V100.3M121.4 97.1H127.3M126.1 94.6V101.1M123.2 97.8H129.1M139.7 99.4V105.9M136.7 102.7H142.6M142.1 100.2V106.7M139.2 103.4H145.1M149.0 102.0V108.5M146.0 105.3H151.9M151.2 102.6V109.1M148.2 105.9H154.1M156.0 116.8V123.2M153.1 120.0H158.9M158.0 116.8V123.2M155.1 120.0H160.9M163.0 123.8V130.2M160.1 127.0H165.9M166.0 123.8V130.2M163.1 127.0H168.9M170.0 123.8V130.2M167.1 127.0H172.9M173.0 123.8V130.2M170.1 127.0H175.9M176.0 123.8V130.2M173.1 127.0H178.9M179.0 123.8V130.2M176.1 127.0H181.9M183.0 123.8V130.2M180.1 127.0H185.9M188.0 123.8V130.2M185.1 127.0H190.9M193.0 123.8V130.2M190.1 127.0H195.9M200.8 123.8V130.2M197.9 127.0H203.8M203.1 123.8V130.2M200.2 127.0H206.0M205.4 123.8V130.2M202.5 127.0H208.3M208.3 123.8V130.2M205.4 127.0H211.2M210.0 123.8V130.2M207.1 127.0H212.9M211.7 123.8V130.2M208.8 127.0H214.6M214.6 123.8V130.2M211.7 127.0H217.5M216.9 123.8V130.2M214.0 127.0H219.8M219.8 123.8V130.2M216.9 127.0H222.8M221.5 123.8V130.2M218.6 127.0H224.4M226.2 123.8V130.2M223.2 127.0H229.1M264.0 123.8V130.2M261.1 127.0H266.9" stroke="#c8000f" stroke-width="1.25" fill="none"/>
<polyline points="69.3,35.8 70.5,41.2 72.9,47.4 75.3,52.8 78.0,58.9 81.2,65.1 84.5,71.2 87.8,76.6 91.5,81.2 95.5,85.5 101.5,90.5 108.5,94.5 115.8,97.7 122.7,100.4 129.6,103.0 136.5,105.3 143.5,107.5 150.4,110.8 158.8,114.2 168.1,118.3 175.0,120.6 180.8,123.5 184.2,124.6 199.2,124.6 199.2,130.7 232.8,130.7 235.8,130.7" fill="none" stroke="#2f5ff2" stroke-width="1.0" stroke-linejoin="miter"/>
<polyline points="69.3,35.8 70.5,41.2 72.9,47.4 75.3,52.8 78.0,58.9 81.2,65.1 84.5,71.2 87.8,76.6 91.5,81.2 95.5,85.5 101.5,90.5 108.5,94.5 115.8,97.7 122.7,100.4 129.6,103.0 136.5,105.3 143.5,107.5 150.4,110.8 158.8,114.2 168.1,118.3 175.0,120.6 180.8,123.5 184.2,124.6 199.2,124.6 199.2,130.7 232.8,130.7" fill="none" stroke="#2f5ff2" stroke-width="2.7" stroke-linejoin="miter"/>
<path d="M77.0 53.2V60.2M73.8 56.7H80.2M77.4 54.1V61.1M74.2 57.6H80.6M79.3 58.0V65.0M76.1 61.5H82.5M81.0 61.3V68.3M77.8 64.8H84.2M82.4 63.8V70.8M79.2 67.3H85.6M82.6 64.1V71.1M79.4 67.6H85.8M83.1 65.1V72.1M79.9 68.6H86.3M83.1 65.2V72.2M79.9 68.7H86.3M83.2 65.4V72.4M80.0 68.9H86.4M83.4 65.7V72.7M80.2 69.2H86.6M83.5 65.8V72.8M80.3 69.3H86.7M83.9 66.7V73.7M80.7 70.2H87.1M85.3 69.0V76.0M82.1 72.5H88.5M87.5 72.5V79.5M84.3 76.0H90.7M87.7 72.9V79.9M84.5 76.4H90.9M89.1 74.7V81.7M85.9 78.2H92.3M89.1 74.8V81.8M85.9 78.3H92.3M89.2 74.8V81.8M86.0 78.3H92.4M90.3 76.2V83.2M87.1 79.7H93.5M91.9 78.1V85.1M88.7 81.6H95.1M92.5 78.8V85.8M89.3 82.3H95.7M92.6 78.9V85.9M89.4 82.4H95.8M92.7 78.9V85.9M89.5 82.4H95.9M93.7 80.1V87.1M90.5 83.6H96.9M94.3 80.7V87.7M91.1 84.2H97.5M95.2 81.6V88.6M92.0 85.1H98.4M95.6 82.1V89.1M92.4 85.6H98.8M98.2 84.3V91.3M95.0 87.8H101.4M98.5 84.5V91.5M95.3 88.0H101.7M100.9 86.5V93.5M97.7 90.0H104.1M101.0 86.6V93.6M97.8 90.1H104.2M102.1 87.4V94.4M98.9 90.9H105.3M102.5 87.6V94.6M99.3 91.1H105.7M104.1 88.5V95.5M100.9 92.0H107.3M105.7 89.4V96.4M102.5 92.9H108.9M106.3 89.8V96.8M103.1 93.3H109.5M106.7 89.9V96.9M103.5 93.4H109.9M107.9 90.6V97.6M104.7 94.1H111.1M108.8 91.1V98.1M105.6 94.6H112.0M109.3 91.4V98.4M106.1 94.9H112.5M109.4 91.4V98.4M106.2 94.9H112.6M112.0 92.5V99.5M108.8 96.0H115.2M114.0 93.4V100.4M110.8 96.9H117.2M114.5 93.6V100.6M111.3 97.1H117.7M115.0 93.9V100.9M111.8 97.4H118.2M115.4 94.0V101.0M112.2 97.5H118.6M116.7 94.6V101.6M113.5 98.1H119.9M117.3 94.8V101.8M114.1 98.3H120.5M117.4 94.8V101.8M114.2 98.3H120.6M118.1 95.1V102.1M114.9 98.6H121.3M119.8 95.8V102.8M116.6 99.3H123.0M120.1 95.9V102.9M116.9 99.4H123.3M120.2 95.9V102.9M117.0 99.4H123.4M121.0 96.3V103.3M117.8 99.8H124.2M123.3 97.1V104.1M120.1 100.6H126.5M123.7 97.3V104.3M120.5 100.8H126.9M124.0 97.4V104.4M120.8 100.9H127.2M124.6 97.6V104.6M121.4 101.1H127.8M125.8 98.1V105.1M122.6 101.6H129.0M127.0 98.5V105.5M123.8 102.0H130.2M127.4 98.7V105.7M124.2 102.2H130.6M130.1 99.7V106.7M126.9 103.2H133.3M131.1 100.0V107.0M127.9 103.5H134.3M133.4 100.8V107.8M130.2 104.3H136.6M133.6 100.8V107.8M130.4 104.3H136.8M135.3 101.4V108.4M132.1 104.9H138.5M136.0 101.6V108.6M132.8 105.1H139.2M136.2 101.7V108.7M133.0 105.2H139.4M136.7 101.9V108.9M133.5 105.4H139.9M136.9 101.9V108.9M133.7 105.4H140.1M137.3 102.1V109.1M134.1 105.6H140.5M137.7 102.2V109.2M134.5 105.7H140.9M138.2 102.3V109.3M135.0 105.8H141.4M140.6 103.1V110.1M137.4 106.6H143.8M142.3 103.6V110.6M139.1 107.1H145.5M142.8 103.8V110.8M139.6 107.3H146.0M143.7 104.1V111.1M140.5 107.6H146.9M145.4 104.9V111.9M142.2 108.4H148.6M145.8 105.1V112.1M142.6 108.6H149.0M145.9 105.1V112.1M142.7 108.6H149.1M146.6 105.5V112.5M143.4 109.0H149.8M147.1 105.7V112.7M143.9 109.2H150.3M148.1 106.2V113.2M144.9 109.7H151.3M148.6 106.4V113.4M145.4 109.9H151.8M149.0 106.6V113.6M145.8 110.1H152.2M149.3 106.8V113.8M146.1 110.3H152.5M152.1 108.0V115.0M148.9 111.5H155.3M155.0 109.2V116.2M151.8 112.7H158.2M155.8 109.5V116.5M152.6 113.0H159.0M156.1 109.6V116.6M152.9 113.1H159.3M157.3 110.1V117.1M154.1 113.6H160.5M158.8 110.7V117.7M155.6 114.2H162.0M159.2 110.9V117.9M156.0 114.4H162.4M161.1 111.7V118.7M157.9 115.2H164.3M161.4 111.8V118.8M158.2 115.3H164.6M161.7 112.0V119.0M158.5 115.5H164.9M163.5 112.8V119.8M160.3 116.3H166.7M166.0 113.9V120.9M162.8 117.4H169.2M166.8 114.2V121.2M163.6 117.7H170.0M167.1 114.3V121.3M163.9 117.8H170.3M167.1 114.4V121.4M163.9 117.9H170.3M167.2 114.4V121.4M164.0 117.9H170.4M168.0 114.8V121.8M164.8 118.3H171.2M168.1 114.8V121.8M164.9 118.3H171.3M169.7 115.3V122.3M166.5 118.8H172.9M174.3 116.9V123.9M171.1 120.4H177.5M175.2 117.2V124.2M172.0 120.7H178.4M175.6 117.4V124.4M172.4 120.9H178.8M178.0 118.6V125.6M174.8 122.1H181.2M179.3 119.2V126.2M176.1 122.7H182.5M71.5 40.3V47.3M68.3 43.8H74.7M74.5 47.5V54.5M71.3 51.0H77.7M77.3 53.9V60.9M74.1 57.4H80.5M78.8 56.9V63.9M75.6 60.4H82.0M79.7 58.6V65.6M76.5 62.1H82.9M80.4 60.1V67.1M77.2 63.6H83.6M81.5 62.2V69.2M78.3 65.7H84.7M82.7 64.3V71.3M79.5 67.8H85.9M83.8 66.3V73.3M80.6 69.8H87.0M84.7 68.0V75.0M81.5 71.5H87.9M86.5 70.9V77.9M83.3 74.4H89.7M87.8 73.1V80.1M84.6 76.6H91.0M88.9 74.5V81.5M85.7 78.0H92.1M90.5 76.5V83.5M87.3 80.0H93.7M91.8 78.0V85.0M88.6 81.5H95.0M93.7 80.0V87.0M90.5 83.5H96.9M95.9 82.3V89.3M92.7 85.8H99.1M98.2 84.2V91.2M95.0 87.7H101.4M101.4 86.9V93.9M98.2 90.4H104.6M103.4 88.1V95.1M100.2 91.6H106.6M106.6 89.9V96.9M103.4 93.4H109.8M113.2 93.0V100.0M110.0 96.5H116.4M181.2 120.1V127.1M178.0 123.6H184.4M182.9 120.7V127.7M179.7 124.2H186.1M185.2 121.1V128.1M182.0 124.6H188.4M186.9 121.1V128.1M183.7 124.6H190.1M188.7 121.1V128.1M185.5 124.6H191.9M191.0 121.1V128.1M187.8 124.6H194.2M193.3 121.1V128.1M190.1 124.6H196.5M195.0 121.1V128.1M191.8 124.6H198.2M196.7 121.1V128.1M193.5 124.6H199.9M201.3 127.2V134.2M198.1 130.7H204.5M202.5 127.2V134.2M199.3 130.7H205.7M204.2 127.2V134.2M201.0 130.7H207.4M206.0 127.2V134.2M202.8 130.7H209.2M208.8 127.2V134.2M205.6 130.7H212.0M211.2 127.2V134.2M208.0 130.7H214.4M213.5 127.2V134.2M210.3 130.7H216.7M216.3 127.2V134.2M213.1 130.7H219.5M219.2 127.2V134.2M216.0 130.7H222.4M221.0 127.2V134.2M217.8 130.7H224.2M226.2 127.2V134.2M223.0 130.7H229.4M227.9 127.2V134.2M224.7 130.7H231.1M229.0 127.2V134.2M225.8 130.7H232.2M230.2 127.2V134.2M227.0 130.7H233.4M231.3 127.2V134.2M228.1 130.7H234.5" stroke="#2f5ff2" stroke-width="1.25" fill="none"/>
<polyline points="306.5,36.6 309.2,38.2 309.6,40.5 310.8,47.4 312.7,55.1 314.6,61.2 316.5,66.6 318.5,72.0 320.5,77.0 322.3,82.0 324.0,86.0 326.0,91.2 329.5,95.2 334.5,98.8 340.0,101.7 345.5,104.6 351.9,108.8 356.1,111.3 361.2,113.5 367.6,116.5 372.2,118.8 374.6,122.7 381.5,123.3 388.5,126.7 393.1,128.5 397.7,129.6 403.5,131.9 405.2,132.5 405.2,140.6 409.8,140.6 409.8,148.5 458.5,148.5 458.5,161.0 493.7,161.0 496.9,161.0" fill="none" stroke="#c8000f" stroke-width="1.0" stroke-linejoin="miter"/>
<polyline points="306.5,36.6 309.2,38.2 309.6,40.5 310.8,47.4 312.7,55.1 314.6,61.2 316.5,66.6 318.5,72.0 320.5,77.0 322.3,82.0 324.0,86.0 326.0,91.2 329.5,95.2 334.5,98.8 340.0,101.7 345.5,104.6 351.9,108.8 356.1,111.3 361.2,113.5 367.6,116.5 372.2,118.8 374.6,122.7 381.5,123.3 388.5,126.7 393.1,128.5 397.7,129.6 403.5,131.9 405.2,132.5 405.2,140.6 409.8,140.6 409.8,148.5 458.5,148.5 458.5,161.0 493.7,161.0" fill="none" stroke="#c8000f" stroke-width="2.4" stroke-linejoin="miter"/>
<path d="M312.6 51.3V57.8M309.6 54.6H315.5M323.9 82.6V89.1M321.0 85.8H326.9M325.9 87.6V94.1M322.9 90.9H328.8M331.2 93.2V99.7M328.2 96.4H334.1M334.8 95.7V102.2M331.9 99.0H337.8M341.3 99.1V105.6M338.4 102.4H344.3M344.8 101.0V107.5M341.9 104.3H347.8M360.2 109.8V116.3M357.2 113.1H363.1M360.2 109.8V116.3M357.2 113.1H363.1M360.6 110.0V116.5M357.6 113.2H363.5M361.6 110.4V116.9M358.7 113.7H364.6M376.1 119.6V126.1M373.2 122.8H379.1M380.3 119.9V126.4M377.3 123.2H383.2M383.3 120.9V127.4M380.4 124.2H386.3M384.0 121.3V127.8M381.1 124.5H387.0M386.6 122.5V129.0M383.6 125.8H389.5M387.1 122.8V129.3M384.1 126.0H390.0M387.7 123.1V129.6M384.8 126.3H390.7M391.0 124.4V130.9M388.0 127.7H393.9M392.0 124.8V131.3M389.1 128.1H395.0M403.0 128.4V134.9M400.0 131.7H405.9M403.6 128.7V135.2M400.6 131.9H406.5M413.0 145.2V151.8M410.1 148.5H415.9M420.0 145.2V151.8M417.1 148.5H422.9M428.3 145.2V151.8M425.4 148.5H431.2M435.6 145.2V151.8M432.7 148.5H438.6M436.5 145.2V151.8M433.6 148.5H439.4M442.0 145.2V151.8M439.1 148.5H444.9M450.0 145.2V151.8M447.1 148.5H452.9M465.0 157.8V164.2M462.1 161.0H467.9M468.3 157.8V164.2M465.4 161.0H471.2M477.0 157.8V164.2M474.1 161.0H479.9M493.7 157.8V164.2M490.8 161.0H496.6" stroke="#c8000f" stroke-width="1.25" fill="none"/>
<polyline points="304.4,36.6 306.2,43.5 308.5,51.2 311.0,58.9 313.3,65.8 315.7,72.8 318.0,78.9 319.7,82.5 322.6,90.0 327.2,96.9 333.0,102.7 338.8,106.2 344.5,108.5 351.5,111.9 357.2,115.4 364.2,118.8 369.9,122.3 376.9,126.2 383.8,127.3 390.8,129.6 397.7,131.9 404.6,134.8 411.5,136.5 418.5,138.3 425.4,140.0 431.5,141.1 438.1,143.5 441.3,145.1 461.0,146.0 463.4,150.0 466.7,152.8 499.4,152.8 503.1,152.8" fill="none" stroke="#2f5ff2" stroke-width="1.0" stroke-linejoin="miter"/>
<polyline points="304.4,36.6 306.2,43.5 308.5,51.2 311.0,58.9 313.3,65.8 315.7,72.8 318.0,78.9 319.7,82.5 322.6,90.0 327.2,96.9 333.0,102.7 338.8,106.2 344.5,108.5 351.5,111.9 357.2,115.4 364.2,118.8 369.9,122.3 376.9,126.2 383.8,127.3 390.8,129.6 397.7,131.9 404.6,134.8 411.5,136.5 418.5,138.3 425.4,140.0 431.5,141.1 438.1,143.5 441.3,145.1 461.0,146.0 463.4,150.0 466.7,152.8 499.4,152.8" fill="none" stroke="#2f5ff2" stroke-width="2.7" stroke-linejoin="miter"/>
<path d="M309.5 50.8V57.8M306.3 54.3H312.7M310.9 55.0V62.0M307.7 58.5H314.1M311.5 56.8V63.8M308.3 60.3H314.7M312.7 60.5V67.5M309.5 64.0H315.9M312.8 60.9V67.9M309.6 64.4H316.0M320.2 80.3V87.3M317.0 83.8H323.4M323.0 87.1V94.1M319.8 90.6H326.2M325.8 91.3V98.3M322.6 94.8H329.0M326.3 92.0V99.0M323.1 95.5H329.5M326.3 92.1V99.1M323.1 95.6H329.5M328.3 94.5V101.5M325.1 98.0H331.5M329.0 95.2V102.2M325.8 98.7H332.2M331.4 97.6V104.6M328.2 101.1H334.6M331.7 97.9V104.9M328.5 101.4H334.9M332.6 98.8V105.8M329.4 102.3H335.8M333.2 99.3V106.3M330.0 102.8H336.4M335.0 100.4V107.4M331.8 103.9H338.2M336.0 101.0V108.0M332.8 104.5H339.2M336.9 101.5V108.5M333.7 105.0H340.1M338.1 102.3V109.3M334.9 105.8H341.3M338.9 102.8V109.8M335.7 106.3H342.1M338.9 102.8V109.8M335.7 106.3H342.1M340.8 103.5V110.5M337.6 107.0H344.0M341.8 103.9V110.9M338.6 107.4H345.0M342.2 104.1V111.1M339.0 107.6H345.4M343.2 104.5V111.5M340.0 108.0H346.4M343.2 104.5V111.5M340.0 108.0H346.4M345.6 105.5V112.5M342.4 109.0H348.8M345.9 105.7V112.7M342.7 109.2H349.1M347.7 106.5V113.5M344.5 110.0H350.9M352.0 108.7V115.7M348.8 112.2H355.2M352.9 109.3V116.3M349.7 112.8H356.1M355.3 110.7V117.7M352.1 114.2H358.5M355.7 111.0V118.0M352.5 114.5H358.9M355.9 111.1V118.1M352.7 114.6H359.1M357.1 111.9V118.9M353.9 115.4H360.3M361.3 113.9V120.9M358.1 117.4H364.5M362.0 114.2V121.2M358.8 117.7H365.2M364.3 115.4V122.4M361.1 118.9H367.5M364.5 115.5V122.5M361.3 119.0H367.7M366.3 116.6V123.6M363.1 120.1H369.5M367.1 117.1V124.1M363.9 120.6H370.3M367.5 117.3V124.3M364.3 120.8H370.7M368.0 117.7V124.7M364.8 121.2H371.2M368.7 118.1V125.1M365.5 121.6H371.9M369.5 118.5V125.5M366.3 122.0H372.7M371.5 119.7V126.7M368.3 123.2H374.7M372.1 120.0V127.0M368.9 123.5H375.3M372.3 120.1V127.1M369.1 123.6H375.5M375.2 121.8V128.8M372.0 125.3H378.4M375.7 122.0V129.0M372.5 125.5H378.9M376.0 122.2V129.2M372.8 125.7H379.2M376.6 122.5V129.5M373.4 126.0H379.8M377.3 122.8V129.8M374.1 126.3H380.5M377.4 122.8V129.8M374.2 126.3H380.6M378.1 122.9V129.9M374.9 126.4H381.3M378.5 123.0V130.0M375.3 126.5H381.7M379.2 123.1V130.1M376.0 126.6H382.4M381.4 123.4V130.4M378.2 126.9H384.6M382.3 123.6V130.6M379.1 127.1H385.5M382.5 123.6V130.6M379.3 127.1H385.7M383.0 123.7V130.7M379.8 127.2H386.2M383.1 123.7V130.7M379.9 127.2H386.3M386.0 124.5V131.5M382.8 128.0H389.2M386.4 124.7V131.7M383.2 128.2H389.6M389.9 125.8V132.8M386.7 129.3H393.1M391.4 126.3V133.3M388.2 129.8H394.6M394.8 127.4V134.4M391.6 130.9H398.0M395.2 127.6V134.6M392.0 131.1H398.4M395.8 127.8V134.8M392.6 131.3H399.0M396.2 127.9V134.9M393.0 131.4H399.4M400.4 129.5V136.5M397.2 133.0H403.6M400.4 129.6V136.6M397.2 133.1H403.6M404.7 131.3V138.3M401.5 134.8H407.9M404.7 131.3V138.3M401.5 134.8H407.9M408.0 132.1V139.1M404.8 135.6H411.2M409.3 132.5V139.5M406.1 136.0H412.5M410.9 132.9V139.9M407.7 136.4H414.1M412.3 133.2V140.2M409.1 136.7H415.5M412.5 133.3V140.3M409.3 136.8H415.7M413.2 133.4V140.4M410.0 136.9H416.4M414.5 133.8V140.8M411.3 137.3H417.7M414.6 133.8V140.8M411.4 137.3H417.8M414.7 133.8V140.8M411.5 137.3H417.9M415.5 134.0V141.0M412.3 137.5H418.7M418.1 134.7V141.7M414.9 138.2H421.3M418.1 134.7V141.7M414.9 138.2H421.3M419.9 135.2V142.2M416.7 138.7H423.1M424.1 136.2V143.2M420.9 139.7H427.3M427.8 136.9V143.9M424.6 140.4H431.0M428.4 137.0V144.0M425.2 140.5H431.6M428.4 137.0V144.0M425.2 140.5H431.6M429.1 137.2V144.2M425.9 140.7H432.3M429.1 137.2V144.2M425.9 140.7H432.3M429.4 137.2V144.2M426.2 140.7H432.6M430.1 137.4V144.4M426.9 140.9H433.3M432.2 137.9V144.9M429.0 141.4H435.4M432.7 138.0V145.0M429.5 141.5H435.9M434.0 138.5V145.5M430.8 142.0H437.2M435.1 138.9V145.9M431.9 142.4H438.3M435.3 139.0V146.0M432.1 142.5H438.5M437.2 139.7V146.7M434.0 143.2H440.4M437.3 139.7V146.7M434.1 143.2H440.5M438.4 140.2V147.2M435.2 143.7H441.6M439.4 140.7V147.7M436.2 144.2H442.6M307.5 44.4V51.4M304.3 47.9H310.7M310.7 54.5V61.5M307.5 58.0H313.9M311.3 56.4V63.4M308.1 59.9H314.5M312.1 58.8V65.8M308.9 62.3H315.3M312.7 60.4V67.4M309.5 63.9H315.9M313.4 62.6V69.6M310.2 66.1H316.6M314.1 64.5V71.5M310.9 68.0H317.3M314.4 65.6V72.6M311.2 69.1H317.6M315.2 67.9V74.9M312.0 71.4H318.4M316.1 70.2V77.2M312.9 73.7H319.3M316.7 72.0V79.0M313.5 75.5H319.9M317.1 73.1V80.1M313.9 76.6H320.3M317.8 74.9V81.9M314.6 78.4H321.0M318.9 77.2V84.2M315.7 80.7H322.1M319.6 78.7V85.7M316.4 82.2H322.8M320.4 80.8V87.8M317.2 84.3H323.6M321.0 82.5V89.5M317.8 86.0H324.2M322.1 85.1V92.1M318.9 88.6H325.3M323.0 87.1V94.1M319.8 90.6H326.2M324.4 89.2V96.2M321.2 92.7H327.6M325.1 90.2V97.2M321.9 93.7H328.3M326.8 92.8V99.8M323.6 96.3H330.0M328.4 94.6V101.6M325.2 98.1H331.6M329.7 95.9V102.9M326.5 99.4H332.9M332.5 98.7V105.7M329.3 102.2H335.7M335.4 100.7V107.7M332.2 104.2H338.6M443.8 141.7V148.7M440.6 145.2H447.0M447.0 141.9V148.9M443.8 145.4H450.2M451.2 142.1V149.1M448.0 145.6H454.4M453.6 142.2V149.2M450.4 145.7H456.8M456.9 142.3V149.3M453.7 145.8H460.1M459.3 142.4V149.4M456.1 145.9H462.5M465.0 147.9V154.9M461.8 151.4H468.2M468.3 149.3V156.3M465.1 152.8H471.5M471.6 149.3V156.3M468.4 152.8H474.8M474.0 149.3V156.3M470.8 152.8H477.2M477.3 149.3V156.3M474.1 152.8H480.5M495.3 149.3V156.3M492.1 152.8H498.5M497.0 149.3V156.3M493.8 152.8H500.2M498.6 149.3V156.3M495.4 152.8H501.8" stroke="#2f5ff2" stroke-width="1.25" fill="none"/>
<polyline points="69.2,473.1 73.1,473.1 73.1,472.3 73.5,472.3 73.5,471.3 73.9,471.3 73.9,470.3 74.2,470.3 74.2,469.2 74.6,469.2 74.6,468.2 75.0,468.2 75.0,467.2 75.4,467.2 75.4,466.2 75.7,466.2 75.7,465.0 76.0,465.0 76.0,463.9 76.3,463.9 76.3,462.7 76.6,462.7 76.6,461.5 76.8,461.5 76.8,460.4 77.1,460.4 77.1,459.2 77.4,459.2 77.4,458.1 77.7,458.1 77.7,456.9 79.2,456.9 79.2,456.2 79.8,456.2 79.8,455.1 80.3,455.1 80.3,454.1 80.9,454.1 80.9,453.0 81.5,453.0 81.5,451.9 82.1,451.9 82.1,450.9 82.7,450.9 82.7,449.8 83.2,449.8 83.2,448.8 83.8,448.8 83.8,447.7 84.0,447.7 84.0,446.5 84.2,446.5 84.2,445.2 84.4,445.2 84.4,444.0 84.6,444.0 84.6,442.8 87.7,442.8 87.7,442.3 88.7,442.3 88.7,441.0 89.8,441.0 89.8,439.8 90.8,439.8 90.8,438.5 91.8,438.5 91.8,437.5 92.8,437.5 92.8,436.4 93.8,436.4 93.8,435.4 94.9,435.4 94.9,434.4 95.9,434.4 95.9,433.3 96.9,433.3 96.9,432.3 97.7,432.3 97.7,431.1 98.5,431.1 98.5,430.0 109.2,430.0 110.8,430.0 110.8,428.9 112.8,428.9 112.8,427.7 114.9,427.7 114.9,426.6 116.9,426.6 116.9,425.4 118.5,425.4 118.5,424.2 120.0,424.2 120.0,423.1 126.2,423.1 126.2,421.5 127.7,421.5 127.7,420.0 131.5,420.0 132.1,420.0 132.1,418.9 132.7,418.9 132.7,417.9 133.2,417.9 133.2,416.9 133.8,416.9 133.8,415.8 149.2,415.8 149.2,411.2 157.4,411.2 157.4,407.7 163.1,407.7 163.1,405.1 168.9,405.1 168.9,401.2 174.6,401.2 174.6,395.5 222.5,395.5 222.5,383.8 258.0,383.8" fill="none" stroke="#c70b27" stroke-width="2.0" stroke-linejoin="miter" stroke-linecap="butt"/>
<polyline points="68.5,472.6 70.0,472.6 70.0,471.7 71.5,471.7 71.5,470.8 72.2,470.8 72.2,469.8 72.8,469.8 72.8,468.7 73.5,468.7 73.5,467.7 74.1,467.7 74.1,466.7 74.8,466.7 74.8,465.6 75.4,465.6 75.4,464.6 76.0,464.6 76.0,463.5 76.6,463.5 76.6,462.3 77.1,462.3 77.1,461.1 77.7,461.1 77.7,460.0 78.3,460.0 78.3,458.9 78.8,458.9 78.8,457.7 79.4,457.7 79.4,456.5 80.0,456.5 80.0,455.4 80.7,455.4 80.7,454.3 81.3,454.3 81.3,453.2 82.0,453.2 82.0,452.1 82.6,452.1 82.6,451.0 83.3,451.0 83.3,449.9 83.9,449.9 83.9,448.8 84.6,448.8 84.6,447.7 85.0,447.7 85.0,446.6 85.4,446.6 85.4,445.4 85.8,445.4 85.8,444.2 86.2,444.2 86.2,443.1 88.5,443.1 88.5,442.0 90.8,442.0 90.8,440.8 92.3,440.8 92.3,439.8 93.9,439.8 93.9,438.7 95.4,438.7 95.4,437.7 96.9,437.7 96.9,436.7 98.5,436.7 98.5,435.8 100.0,435.8 100.0,434.8 101.5,434.8 101.5,433.8 105.3,433.8 105.3,432.6 109.2,432.6 109.2,431.5 111.3,431.5 111.3,430.2 113.3,430.2 113.3,429.0 115.4,429.0 115.4,427.7 116.9,427.7 116.9,426.7 118.5,426.7 118.5,425.8 120.0,425.8 120.0,424.8 121.5,424.8 121.5,423.8 127.7,423.8 127.7,423.1 130.0,423.1 130.0,422.0 132.3,422.0 132.3,420.8 133.3,420.8 133.3,419.8 134.4,419.8 134.4,418.7 135.4,418.7 135.4,417.7 142.3,417.7 142.3,417.4 148.5,417.4 148.5,416.2 152.3,416.2 152.3,415.2 156.2,415.2 156.2,414.3 160.0,414.3 160.0,413.0 161.5,413.0 161.5,412.0 163.0,412.0 163.0,411.0 164.2,411.0 164.2,410.1 165.4,410.1 165.4,409.2 177.6,409.2 177.6,405.2 186.3,405.2 186.3,403.8 192.0,403.8 192.0,402.3 202.0,402.3 202.0,400.4 229.5,400.4 229.5,396.9 264.5,396.9" fill="none" stroke="#105087" stroke-width="2.0" stroke-linejoin="miter" stroke-linecap="butt"/>
<polyline points="306.5,473.5 308.8,473.5 308.8,473.1 308.9,473.1 308.9,472.1 309.0,472.1 309.0,471.0 309.1,471.0 309.1,470.0 309.3,470.0 309.3,469.0 309.4,469.0 309.4,467.9 309.5,467.9 309.5,466.9 311.4,466.9 311.4,465.8 313.4,465.8 313.4,464.6 316.5,464.6 316.5,463.1 316.8,463.1 316.8,462.0 317.1,462.0 317.1,460.9 317.4,460.9 317.4,459.9 317.7,459.9 317.7,458.8 318.0,458.8 318.0,457.7 322.6,457.7 322.6,456.2 324.9,456.2 324.9,454.9 327.2,454.9 327.2,453.5 328.2,453.5 328.2,452.3 329.3,452.3 329.3,451.2 330.3,451.2 330.3,450.0 347.2,450.0 347.2,448.5 370.3,448.5 370.3,445.8 407.7,445.8 407.7,441.0 493.9,441.0" fill="none" stroke="#c70b27" stroke-width="2.0" stroke-linejoin="miter" stroke-linecap="butt"/>
<polyline points="304.9,473.5 305.3,473.5 305.3,472.4 305.7,472.4 305.7,471.4 306.1,471.4 306.1,470.3 306.5,470.3 306.5,469.2 307.0,469.2 307.0,468.1 307.4,468.1 307.4,467.0 307.9,467.0 307.9,466.0 308.3,466.0 308.3,464.9 308.8,464.9 308.8,463.8 309.6,463.8 309.6,462.6 310.3,462.6 310.3,461.5 311.1,461.5 311.1,460.4 311.8,460.4 311.8,459.2 312.8,459.2 312.8,458.0 313.9,458.0 313.9,456.9 314.9,456.9 314.9,455.7 316.4,455.7 316.4,454.6 318.0,454.6 318.0,453.4 319.5,453.4 319.5,452.3 322.6,452.3 322.6,451.1 325.7,451.1 325.7,450.0 328.8,450.0 328.8,448.9 331.8,448.9 331.8,447.7 335.6,447.7 335.6,446.8 339.5,446.8 339.5,445.8 348.8,445.8 348.8,444.9 359.5,444.9 359.5,443.8 368.8,443.8 368.8,442.8 378.0,442.8 378.0,442.3 396.9,442.3 396.9,441.0 442.2,441.0 442.2,439.4 462.1,439.4 462.1,436.2 500.6,436.2" fill="none" stroke="#105087" stroke-width="2.0" stroke-linejoin="miter" stroke-linecap="butt"/>
<polyline points="69.4,736.1 75.5,736.1 75.5,734.7 77.5,734.7 77.5,733.5 79.5,733.5 79.5,732.3 80.8,732.3 80.8,731.3 82.2,731.3 82.2,730.3 86.2,730.3 86.2,729.2 93.0,729.2 93.0,728.7 93.6,728.7 93.6,727.5 269.3,727.5" fill="none" stroke="#c70b27" stroke-width="2.0" stroke-linejoin="miter" stroke-linecap="butt"/>
<polyline points="68.7,736.1 70.1,736.1 70.1,735.1 71.4,735.1 71.4,734.0 72.8,734.0 72.8,733.0 74.8,733.0 74.8,731.9 76.8,731.9 76.8,730.7 77.6,730.7 77.6,729.7 78.4,729.7 78.4,728.7 79.2,728.7 79.2,727.6 80.0,727.6 80.0,726.6 80.8,726.6 80.8,725.6 83.5,725.6 83.5,724.6 86.2,724.6 86.2,723.6 91.6,723.6 91.6,722.2 95.6,722.2 95.6,720.9 102.4,720.9 102.4,719.9 109.1,719.9 109.1,719.0 152.5,719.0 152.5,718.3 269.3,718.3" fill="none" stroke="#105087" stroke-width="2.0" stroke-linejoin="miter" stroke-linecap="butt"/>
<polyline points="305.5,735.7 312.5,735.7 312.5,735.2 312.8,735.2 312.8,734.2 313.2,734.2 313.2,733.1 313.5,733.1 313.5,732.1 313.9,732.1 313.9,731.0 314.2,731.0 314.2,730.0 315.0,730.0 315.0,728.7 315.7,728.7 315.7,727.5 316.5,727.5 316.5,726.2 317.6,726.2 317.6,725.0 318.8,725.0 318.8,723.8 318.9,723.8 318.9,722.7 319.1,722.7 319.1,721.7 319.2,721.7 319.2,720.6 319.4,720.6 319.4,719.6 319.5,719.6 319.5,718.5 319.8,718.5 319.8,717.4 320.1,717.4 320.1,716.3 320.4,716.3 320.4,715.3 320.7,715.3 320.7,714.2 321.1,714.2 321.1,713.1 321.4,713.1 321.4,712.0 321.7,712.0 321.7,710.9 322.0,710.9 322.0,709.9 322.3,709.9 322.3,708.8 322.6,708.8 322.6,707.7 324.1,707.7 324.1,706.5 325.7,706.5 325.7,705.4 326.7,705.4 326.7,704.4 327.8,704.4 327.8,703.3 328.8,703.3 328.8,702.3 329.8,702.3 329.8,701.3 330.8,701.3 330.8,700.2 331.8,700.2 331.8,699.2 334.1,699.2 334.1,698.2 336.5,698.2 336.5,697.2 341.1,697.2 341.1,695.8 344.2,695.8 344.2,695.1 356.5,695.1 356.5,694.6 356.9,694.6 356.9,693.7 357.2,693.7 357.2,692.7 407.6,692.9 407.6,688.4 499.1,688.4" fill="none" stroke="#c70b27" stroke-width="2.0" stroke-linejoin="miter" stroke-linecap="butt"/>
<polyline points="304.9,735.7 311.1,735.7 311.1,735.4 313.4,735.4 313.4,733.8 313.6,733.8 313.6,732.8 313.9,732.8 313.9,731.8 314.1,731.8 314.1,730.8 314.4,730.8 314.4,729.7 314.6,729.7 314.6,728.7 314.9,728.7 314.9,727.7 315.2,727.7 315.2,726.6 315.6,726.6 315.6,725.5 315.9,725.5 315.9,724.4 316.2,724.4 316.2,723.3 316.5,723.3 316.5,722.2 316.9,722.2 316.9,721.1 317.2,721.1 317.2,720.0 317.5,720.0 317.5,718.9 317.9,718.9 317.9,717.8 318.2,717.8 318.2,716.7 318.5,716.7 318.5,715.6 318.8,715.6 318.8,714.5 319.2,714.5 319.2,713.4 319.5,713.4 319.5,712.3 319.9,712.3 319.9,711.1 320.3,711.1 320.3,710.0 320.6,710.0 320.6,708.8 321.0,708.8 321.0,707.7 321.4,707.7 321.4,706.5 321.8,706.5 321.8,705.4 322.3,705.4 322.3,704.3 322.8,704.3 322.8,703.2 323.2,703.2 323.2,702.2 323.7,702.2 323.7,701.1 324.2,701.1 324.2,700.0 324.9,700.0 324.9,698.9 325.7,698.9 325.7,697.7 326.4,697.7 326.4,696.5 327.2,696.5 327.2,695.4 328.0,695.4 328.0,694.4 328.8,694.4 328.8,693.5 329.5,693.5 329.5,692.5 330.3,692.5 330.3,691.5 331.6,691.5 331.6,690.3 332.9,690.3 332.9,689.2 334.2,689.2 334.2,688.0 336.1,688.0 336.1,687.1 338.0,687.1 338.0,686.2 338.8,686.2 338.8,685.0 339.5,685.0 339.5,683.8 341.1,683.8 341.1,682.6 342.6,682.6 342.6,681.5 347.2,681.5 347.2,680.0 349.3,680.0 349.3,679.0 351.3,679.0 351.3,677.9 353.4,677.9 353.4,676.9 359.5,676.9 359.5,675.4 367.2,675.4 367.2,674.8 370.0,674.5 372.8,674.5 372.8,673.4 375.6,673.4 375.6,672.3 386.7,672.3 386.7,671.5 399.3,671.5 399.3,671.0 505.2,671.0" fill="none" stroke="#105087" stroke-width="2.0" stroke-linejoin="miter" stroke-linecap="butt"/>
</svg>
<div class="frame"></div><div class="frame2"></div>
</body></html>
